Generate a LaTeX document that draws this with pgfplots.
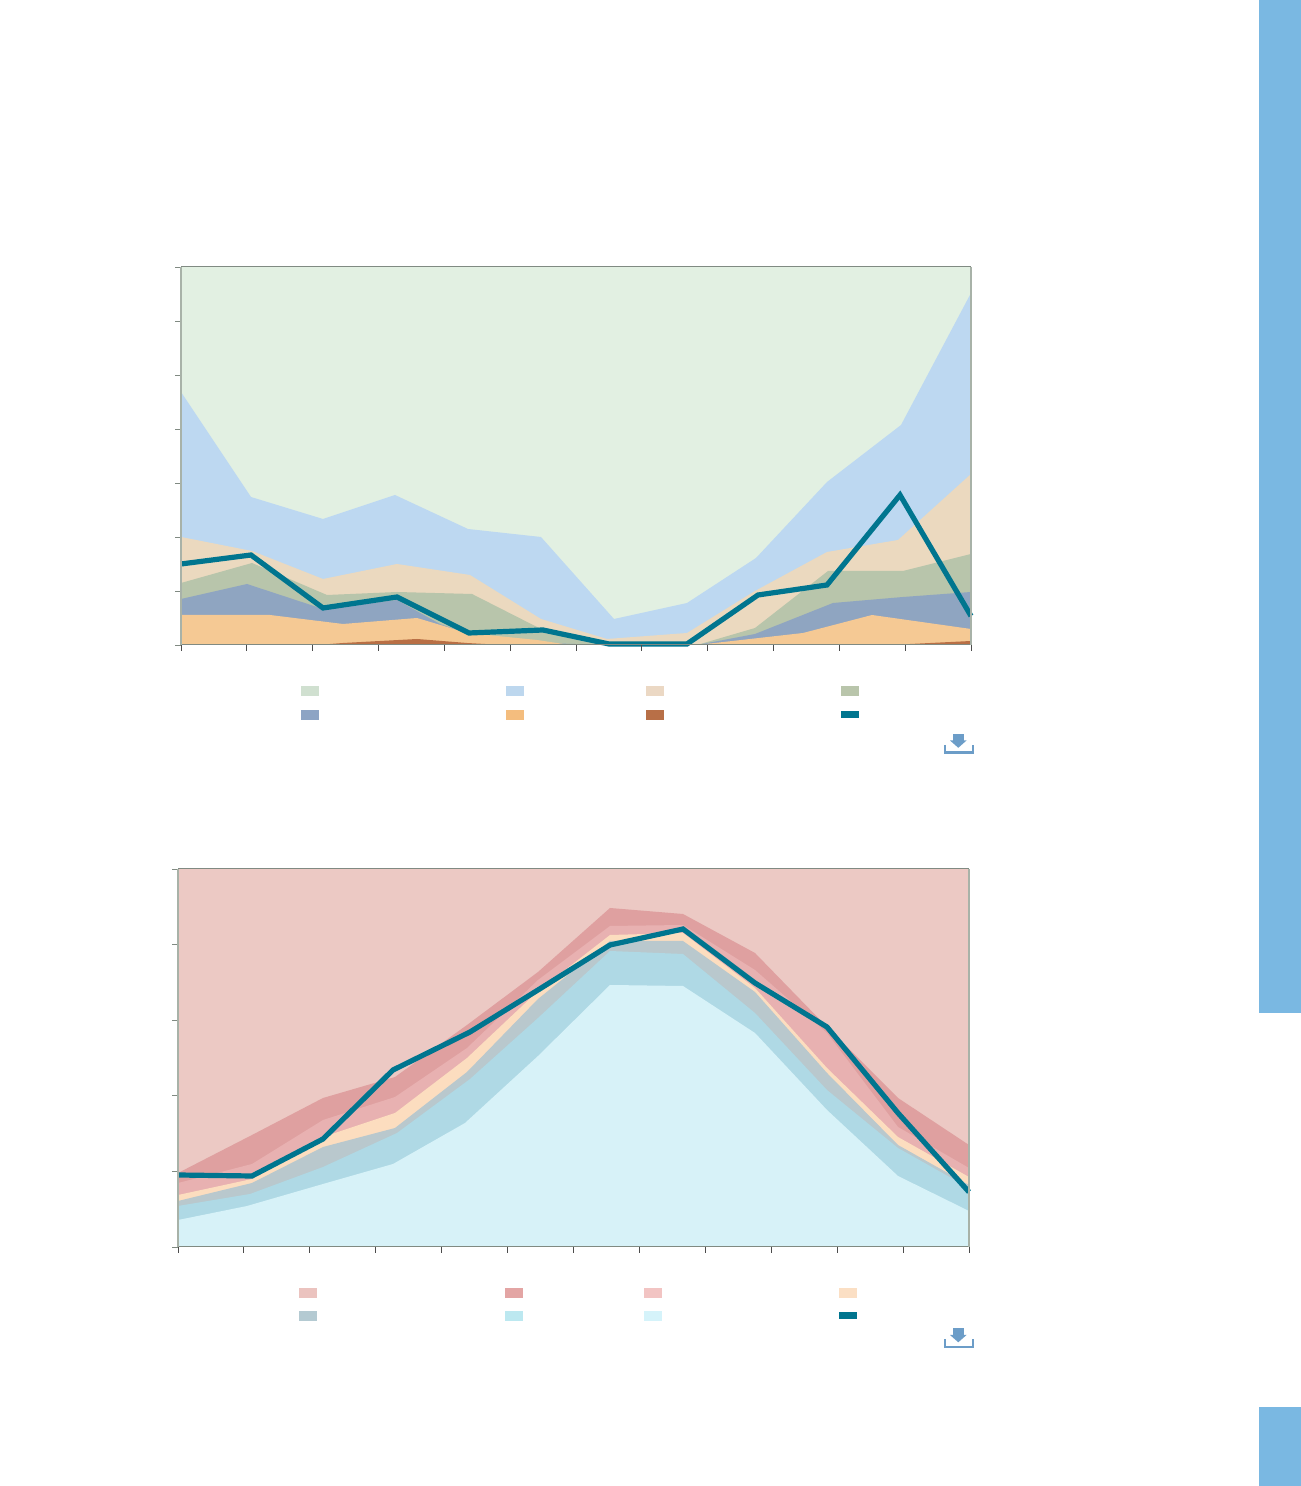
\documentclass[border=0pt]{standalone}
\usepackage{pgfplots}
\pgfplotsset{compat=1.18}
\definecolor{teal1}{HTML}{00758F}
\definecolor{axgray}{HTML}{A8B2A8}
\definecolor{axdark}{HTML}{808A82}
\definecolor{side}{HTML}{7AB8E2}
\definecolor{icon}{HTML}{6C9DC8}
\definecolor{aGreen}{HTML}{E2F0E2}
\definecolor{aBlue}{HTML}{BDD8F1}
\definecolor{aTan}{HTML}{EBD9BF}
\definecolor{aSage}{HTML}{B8C5AB}
\definecolor{aSlate}{HTML}{8FA5C1}
\definecolor{aOrange}{HTML}{F5C994}
\definecolor{aBrown}{HTML}{B96F45}
\definecolor{bPale}{HTML}{ECC9C4}
\definecolor{bRose}{HTML}{DFA0A0}
\definecolor{bPink}{HTML}{E8B1B1}
\definecolor{bPeach}{HTML}{FCDDBF}
\definecolor{bGray}{HTML}{B9C8CD}
\definecolor{bMid}{HTML}{AFD9E5}
\definecolor{bCyan}{HTML}{D7F2F8}
\definecolor{lA}{HTML}{D0E0D0}
\definecolor{lB}{HTML}{BDD7EE}
\definecolor{lC}{HTML}{EBD8C4}
\definecolor{lD}{HTML}{B9C5AB}
\definecolor{lE}{HTML}{8DA4C4}
\definecolor{lF}{HTML}{F4BD7E}
\definecolor{lG}{HTML}{B86F47}
\definecolor{mA}{HTML}{EBC3BF}
\definecolor{mB}{HTML}{E3A5A4}
\definecolor{mC}{HTML}{F2C4C3}
\definecolor{mD}{HTML}{FBDFC4}
\definecolor{mE}{HTML}{B4CAD2}
\definecolor{mF}{HTML}{BCE8F0}
\definecolor{mG}{HTML}{D5F3FA}
\pgfplotsset{
  chart/.style={
    scale only axis, anchor=south west, axis on top, clip=false,
    separate axis lines,
    every outer x axis line/.append style={axdark, line width=1pt},
    every outer y axis line/.append style={axgray, line width=1.7pt},
    tick align=outside, xticklabels={}, yticklabels={},
    xtick pos=bottom, ytick pos=left,
    major tick length=6pt,
    ytick style={axdark, line width=0.9pt},
    xtick style={black!70, line width=0.9pt},
    no marks,
  },
  band/.style={draw=none, fill=#1, forget plot},
  trend/.style={teal1, line width=5.2pt, line join=miter, forget plot},
}
\newcommand{\swatch}[3]{\fill[#1] (#2,1486-#3) rectangle ++(17.5,-10.5);}
\newcommand{\tealswatch}[2]{\fill[teal1] (#1,1486-#2-1.5) rectangle ++(17.5,-7);}
\newcommand{\dlicon}[1]{%
  \fill[icon] (952.5,1486-#1+1) rectangle (963.5,1486-#1-6);
  \fill[icon] (950,1486-#1-5.5) -- (966.5,1486-#1-5.5) -- (958.3,1486-#1-12.8) -- cycle;
  \draw[icon, line width=2.3pt] (945.3,1486-#1-10) -- (945.3,1486-#1-17.6) -- (972.7,1486-#1-17.6) -- (972.7,1486-#1-10);
}
\begin{document}
\begin{tikzpicture}[x=1pt,y=1pt]
\useasboundingbox (0,0) rectangle (1301,1486);
\fill[white] (0,0) rectangle (1301,1486);
\fill[side] (1259,1486) rectangle (1301,473);
\fill[side] (1259,79) rectangle (1301,0);

\begin{axis}[chart, at={(181pt,841pt)}, width=790pt, height=378pt,
  xmin=0, xmax=790, ymin=0, ymax=378,
  xtick={0,65.83,131.67,197.5,263.33,329.17,395,460.83,526.67,592.5,658.33,724.17,790},
  ytick={0,54,108,162,216,270,324,378}]
\addplot[band=aGreen] coordinates {(0,378)(790,378)} \closedcycle;
\addplot[band=aBlue] coordinates {(0,253)(70,148)(142,126)(214,150)(287,116)(360,108)(433,26)(506,42)(575,87)(646,163)(720,220)(790,352)} \closedcycle;
\addplot[band=aTan] coordinates {(0,108)(71,94)(142,66)(216,81)(289,70)(360,26)(426,6)(506,12)(574,54)(646,93)(717,105)(790,171)} \closedcycle;
\addplot[band=aSage] coordinates {(0,62)(71,82)(146,50)(216,53)(291,51)(356,18)(432,0)(516,0)(574,17)(647,74)(722,74)(790,91)} \closedcycle;
\addplot[band=aSlate] coordinates {(0,46)(66,61)(142,36)(216,45)(259,21)(290,10)(356,2)(432,0)(516,0)(574,11)(652,42)(722,48)(790,53)} \closedcycle;
\addplot[band=aOrange] coordinates {(0,30)(89,30)(162,21)(236,27)(286,12)(356,5)(389,0)(516,0)(622,12)(691,30)(790,16)} \closedcycle;
\addplot[band=aBrown] coordinates {(0,0)(136,0)(162,2)(236,6)(286,2)(322,0)(709,0)(790,4)} \closedcycle;
\addplot[trend] coordinates {(0,81)(70,90)(142,37)(216,48)(288,12)(362,15)(428,1)(506,1)(577,50)(646,60)(719,150)(790,29)};
\end{axis}

\begin{axis}[chart, at={(178pt,239pt)}, width=791pt, height=378pt,
  xmin=0, xmax=791, ymin=0, ymax=378,
  xtick={0,65.92,131.83,197.75,263.67,329.58,395.5,461.42,527.33,593.25,659.17,725.08,791},
  ytick={0,75.6,151.2,226.8,302.4,378}]
\addplot[band=bPale] coordinates {(0,378)(791,378)} \closedcycle;
\addplot[band=bRose] coordinates {(0,74)(74,112)(145,149)(217,170)(289,222)(360,275)(432,339)(505,333)(577,294)(649,220)(720,149)(791,102)} \closedcycle;
\addplot[band=bPink] coordinates {(0,64)(74,83)(145,127)(217,150)(289,199)(360,267)(432,321)(505,322)(577,277)(649,214)(720,120)(791,79)} \closedcycle;
\addplot[band=bPeach] coordinates {(0,52)(74,68)(145,110)(217,134)(289,189)(360,256)(432,312)(505,314)(577,259)(649,179)(720,110)(791,70)} \closedcycle;
\addplot[band=bGray] coordinates {(0,46)(74,64)(145,100)(217,119)(289,175)(360,248)(432,306)(505,306)(577,255)(649,174)(720,102)(791,62)} \closedcycle;
\addplot[band=bMid] coordinates {(0,41)(72,53)(145,80)(219,114)(292,168)(360,229)(432,296)(505,293)(577,234)(649,157)(720,99)(791,59)} \closedcycle;
\addplot[band=bCyan] coordinates {(0,27)(69,41)(145,63)(215,83)(287,124)(360,191)(432,262)(505,261)(577,214)(649,137)(720,71)(791,36)} \closedcycle;
\addplot[trend] coordinates {(0,72)(74,71)(145,108)(215,177)(292,215)(360,257)(432,302)(505,318)(577,264)(649,220)(720,134)(791,55)};
\end{axis}

\swatch{lA}{301}{686}
\swatch{lB}{506}{686}
\swatch{lC}{646}{686}
\swatch{lD}{841}{686}
\swatch{lE}{301}{710}
\swatch{lF}{506}{710}
\swatch{lG}{646}{710}
\tealswatch{841}{710}
\swatch{mA}{299}{1288}
\swatch{mB}{505}{1288}
\swatch{mC}{644}{1288}
\swatch{mD}{839}{1288}
\swatch{mE}{299}{1311}
\swatch{mF}{505}{1311}
\swatch{mG}{644}{1311}
\tealswatch{839}{1311}
\dlicon{735}
\dlicon{1329.5}
\end{tikzpicture}
\end{document}
